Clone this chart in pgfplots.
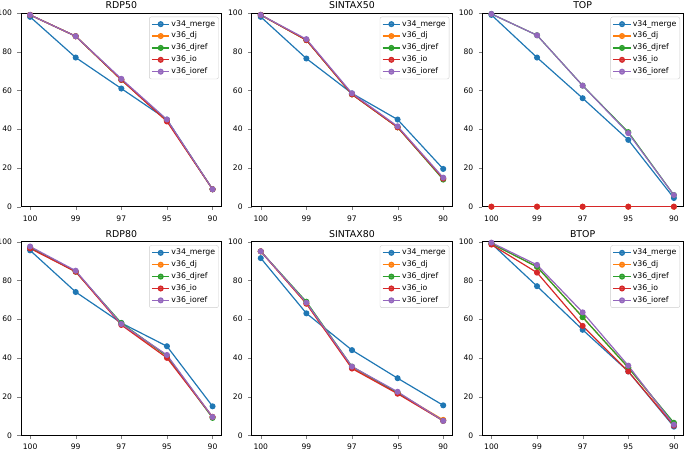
\documentclass[border=0pt]{standalone}
\usepackage{pgfplots}
\pgfplotsset{compat=1.18}
\usepackage{pgfplotstable}
\usepgfplotslibrary{groupplots}
\usepackage{fontspec}
\setmainfont{DejaVu Sans}

\definecolor{tabblue}{HTML}{1F77B4}
\definecolor{taborange}{HTML}{FF7F0E}
\definecolor{tabgreen}{HTML}{2CA02C}
\definecolor{tabred}{HTML}{D62728}
\definecolor{tabpurple}{HTML}{9467BD}

% x: 0..4 stand for 100, 99, 97, 95, 90
\pgfplotstableread{
x m    dj   djref io   ioref
0 98   99   99    99   99
1 77   88   88    88   88
2 61   65.5 65.5  65.5 66
3 45   44.5 44.5  44   45
4 9    9    9     9    9
}\rdpfifty
\pgfplotstableread{
x m    dj   djref io   ioref
0 98   99   99    99   99
1 76.5 86   86    86   86.5
2 58.5 58   58    58   58.5
3 45   41   41    41   41.5
4 19.5 14.5 14    14.5 15
}\sintaxfifty
\pgfplotstableread{
x m    dj   djref io   ioref
0 99   0    99.5  0    99.5
1 77   0    88.5  0    88.5
2 56   0    62.5  0    62.5
3 34.5 0    38.5  0    38
4 4.5  0    6     0    6
}\topdata
\pgfplotstableread{
x m    dj   djref io   ioref
0 95.5 97   97    96.5 97.5
1 74   84.5 84.5  84.5 85
2 58   57.5 58    57   57.5
3 46   41   41    40   41.5
4 15   9.5  9     9.5  9.5
}\rdpeighty
\pgfplotstableread{
x m    dj   djref io   ioref
0 91.5 95   95    95   95
1 63   68   69    68   68.5
2 44   35   35.5  34.5 35.5
3 29.5 22   22    21.5 22.5
4 15.5 8    7.5   7.5  7.5
}\sintaxeighty
\pgfplotstableread{
x m    dj   djref io   ioref
0 99   99   99    98.5 99.5
1 77   87   87    84   88
2 54.5 61   61    56.5 63.5
3 33   35   35    33   36
4 4.5  6    6.5   5    5.5
}\btop

\pgfplotsset{
  every axis plot/.append style={line width=1.2pt, mark=*, mark size=2.4pt},
  legend image code/.code={
    \draw[mark repeat=2,mark phase=2] plot coordinates {(0pt,0pt) (8.8pt,0pt) (17.6pt,0pt)};
  },
}

\newcommand{\fiveseries}[1]{%
  \addplot[tabblue, mark options={fill=tabblue}] table[x=x,y=m] {#1};
  \addlegendentry{v34\_merge}
  \addplot[taborange, mark options={fill=taborange}] table[x=x,y=dj] {#1};
  \addlegendentry{v36\_dj}
  \addplot[tabgreen, mark options={fill=tabgreen}] table[x=x,y=djref] {#1};
  \addlegendentry{v36\_djref}
  \addplot[tabred, mark options={fill=tabred}] table[x=x,y=io] {#1};
  \addlegendentry{v36\_io}
  \addplot[tabpurple, mark options={fill=tabpurple}] table[x=x,y=ioref] {#1};
  \addlegendentry{v36\_ioref}
}

\begin{document}
\begin{tikzpicture}
  \begin{groupplot}[
      group style={group size=3 by 2, horizontal sep=30pt, vertical sep=35pt},
      scale only axis,
      width=201pt, height=194pt,
      xmin=-0.2, xmax=4.2,
      ymin=0, ymax=100,
      xtick={0,1,2,3,4},
      xticklabels={100,99,97,95,90},
      ytick={0,20,40,60,80,100},
      tick align=outside,
      tick pos=left,
      major tick length=3.5pt,
      /pgf/number format/assume math mode=true,
      tick label style={font=\fontsize{7.6}{9}\selectfont, inner sep=1pt},
      xticklabel style={yshift=-4pt},
      yticklabel style={xshift=-4.3pt},
      title style={font=\fontsize{9.4}{11}\selectfont, inner sep=0pt, yshift=-2pt},
      axis line style={line width=0.6pt},
      legend cell align=left,
      legend style={at={(1,1)}, anchor=north east, xshift=-3pt, yshift=-3.7pt,
        draw=black!20, rounded corners=2pt, fill=white, fill opacity=0.8,
        text opacity=1, font=\fontsize{7.8}{9}\selectfont,
        nodes={inner sep=1.4pt, text height=5.8pt, text depth=2pt},
        row sep=1.3pt, inner sep=2pt},
    ]
    \nextgroupplot[title={RDP50}]
    \fiveseries{\rdpfifty}
    \nextgroupplot[title={SINTAX50}]
    \fiveseries{\sintaxfifty}
    \nextgroupplot[title={TOP}]
    \fiveseries{\topdata}
    \nextgroupplot[title={RDP80}]
    \fiveseries{\rdpeighty}
    \nextgroupplot[title={SINTAX80}]
    \fiveseries{\sintaxeighty}
    \nextgroupplot[title={BTOP}]
    \fiveseries{\btop}
  \end{groupplot}
  \pgfresetboundingbox
  \path ([shift={(-21pt,13pt)}]group c1r1.north west) rectangle ([shift={(2pt,-13.5pt)}]group c3r2.south east);
\end{tikzpicture}
\end{document}
